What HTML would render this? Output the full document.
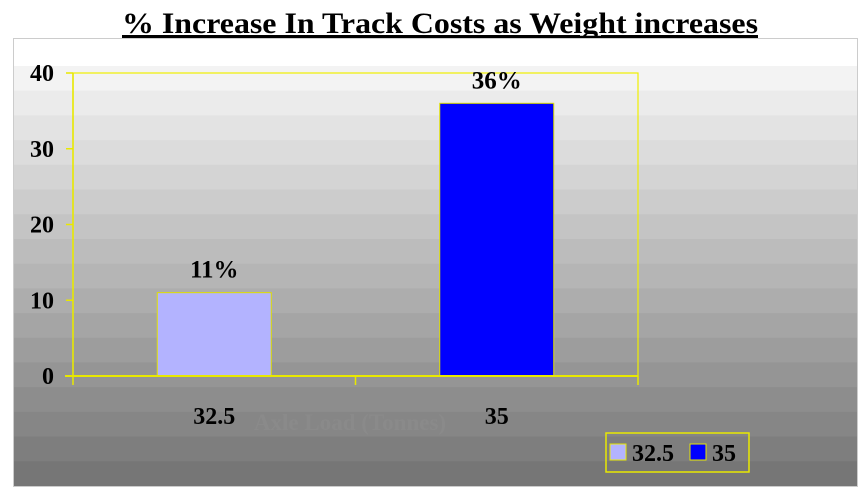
<!DOCTYPE html>
<html><head><meta charset="utf-8"><style>
html,body{margin:0;padding:0;background:#fff;}
svg{display:block;font-family:"Liberation Serif",serif;}
</style></head><body>
<svg id="c" width="861" height="489" viewBox="0 0 861 489">
<text x="440" y="33" text-anchor="middle" font-size="30" font-weight="bold" textLength="636" lengthAdjust="spacingAndGlyphs" text-decoration="underline">% Increase In Track Costs as Weight increases</text>
<line x1="122" y1="37" x2="758" y2="37" stroke="#000" stroke-width="2.5"/>
<g id="bg"></g>
<rect x="13.5" y="38.5" width="844" height="448" fill="none" stroke="#ccc"/>
<g id="plot"></g>
</svg>
<script>
const categories=["32.5","35"];
const values=[11,36];
const valueLabels=["11%","36%"];
const yTicks=[0,10,20,30,40];
const ns="http://www.w3.org/2000/svg";
const svg=document.getElementById('c'),bg=document.getElementById('bg'),plot=document.getElementById('plot');
function mk(t,a,p){const e=document.createElementNS(ns,t);for(const k in a)e.setAttribute(k,a[k]);(p||plot).appendChild(e);return e;}
// background bands
const w=mk('rect',{x:14,y:39,width:843,height:27,fill:'#fff'},bg);
let yb=66,n=17;
for(let i=0;i<n;i++){const g=Math.round(243-(243-118)*i/(n-1));const h=(486-66)/n;
const r=mk('rect',{x:14,y:yb+i*h,width:843,height:h+0.5,fill:`rgb(${g},${g},${g})`},bg);
}
const X0=73,X1=638,Y0=376,Y1=73,yMax=40;
const y=v=>Y0-(Y0-Y1)*v/yMax;
const cw=(X1-X0)/categories.length;
const xc=i=>X0+cw*(i+0.5);
const frame=mk('rect',{x:X0,y:Y1,width:X1-X0,height:Y0-Y1,fill:'none',stroke:'#f0f000','stroke-width':1.2});

const colors=['#b3b3ff','#0000ff'];
values.forEach((v,i)=>{
 const bw=114;
 const b=mk('rect',{x:xc(i)-bw/2,y:y(v),width:bw,height:Y0-y(v),fill:colors[i],stroke:'#e0e000','stroke-width':1});
 
 const t=mk('text',{x:xc(i),y:y(v)-15,'text-anchor':'middle','font-size':25,'font-weight':'bold'});t.textContent=valueLabels[i];
 
 const c=mk('text',{x:xc(i)-(i==0?0:0),y:424,'text-anchor':'middle','font-size':24,'font-weight':'bold'});c.textContent=categories[i];
 
});
const at=mk('text',{x:350,y:430,'text-anchor':'middle','font-size':23,'font-weight':'bold',fill:'#8a8a8a'});at.textContent='Axle Load (Tonnes)';

// x axis
const xa=mk('line',{x1:X0-8,y1:Y0,x2:X1,y2:Y0,stroke:'#e8e800','stroke-width':2});

for(let i=0;i<=categories.length;i++){const tk=mk('line',{x1:X0+cw*i,y1:Y0,x2:X0+cw*i,y2:Y0+9,stroke:'#e8e800','stroke-width':1.5});
}
const ya=mk('line',{x1:X0,y1:Y1,x2:X0,y2:Y0,stroke:'#e8e800','stroke-width':1.5});

yTicks.forEach(v=>{
 const tk=mk('line',{x1:X0-7,y1:y(v),x2:X0,y2:y(v),stroke:'#e8e800','stroke-width':1.5});
 
 const t=mk('text',{x:54,y:y(v)+8,'text-anchor':'end','font-size':24,'font-weight':'bold'});t.textContent=v;
 
});
// legend
const lg=mk('g',{});
mk('rect',{x:606,y:433,width:143,height:39,fill:'none',stroke:'#e8e800','stroke-width':1.5},lg);
const lx=[610,690],tx=[632,712];
categories.forEach((c,i)=>{
 const s=mk('rect',{x:lx[i],y:444,width:16,height:16,fill:colors[i],stroke:'#e8e800'},lg);
 
 const t=mk('text',{x:tx[i],y:461,'font-size':24,'font-weight':'bold'},lg);t.textContent=c;
 
});
</script>
</body></html>
